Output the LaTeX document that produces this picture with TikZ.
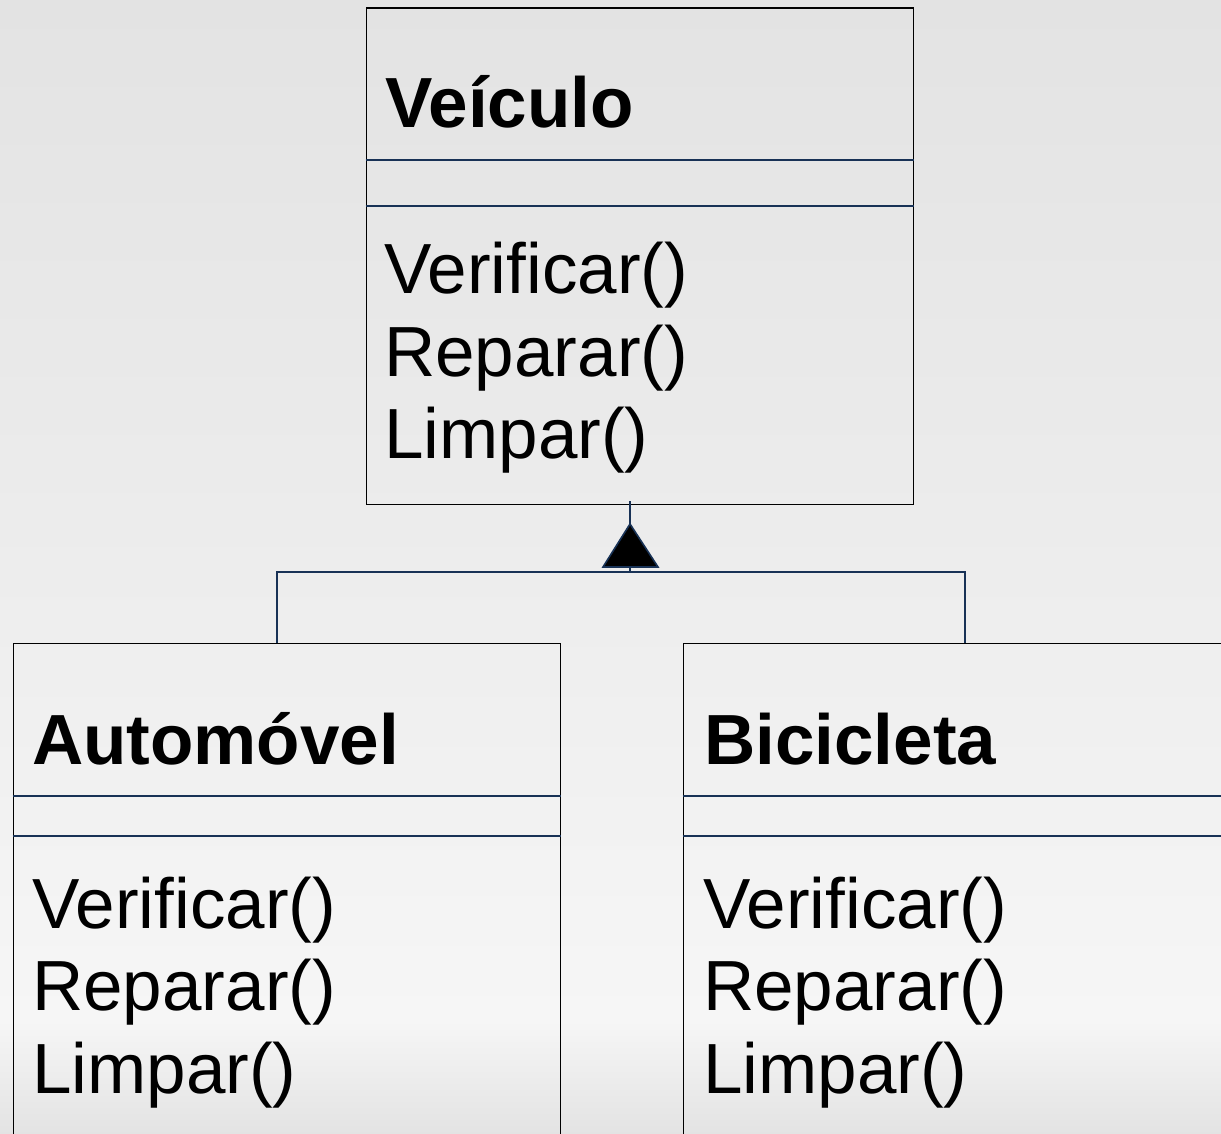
\documentclass[tikz,border=0pt]{standalone}
\usepackage{fontspec}
\setmainfont{Liberation Sans}
\definecolor{umlblue}{RGB}{24,50,86}
\definecolor{bgtop}{RGB}{227,227,227}
\definecolor{bgmid}{RGB}{236,236,236}
\definecolor{bglight}{RGB}{246,246,246}
\definecolor{bgbot}{RGB}{227,227,227}
% page background: grey at the top, lighter towards the lower part, darker again at the very bottom
\pgfdeclareverticalshading{pagebg}{100bp}{color(0bp)=(bgbot); color(25bp)=(bgbot); color(30bp)=(bglight); color(52bp)=(bgmid); color(75bp)=(bgtop); color(100bp)=(bgtop)}
\tikzset{
  classbox/.style={draw=black, line width=1.8pt, rectangle, inner sep=0pt, anchor=north west},
  divider/.style={draw=umlblue, line width=2.2pt},
  link/.style={draw=umlblue, line width=1.6pt},
  classname/.style={anchor=base west, inner sep=0pt, font=\fontsize{71}{84}\selectfont\bfseries},
  member/.style={anchor=base west, inner sep=0pt, font=\fontsize{71}{84}\selectfont},
}
\begin{document}
\begin{tikzpicture}[x=1pt,y=-1pt]
\useasboundingbox (0,0) rectangle (1221,1134);
\clip (0,0) rectangle (1221,1134);
\shade[shading=pagebg] (0,0) rectangle (1221,1134);

% class boxes
\node[classbox, minimum width=547pt, minimum height=496pt] (veh) at (365.5,7.5) {};
\node[classbox, minimum width=547pt, minimum height=560pt] (auto) at (12.5,642.5) {};
\node[classbox, minimum width=560pt, minimum height=560pt] (bici) at (682.5,642.5) {};

% compartment separators
\draw[divider] (veh.west |- 0,160) -- (veh.east |- 0,160);
\draw[divider] (veh.west |- 0,206) -- (veh.east |- 0,206);
\draw[divider] (auto.west |- 0,796) -- (auto.east |- 0,796);
\draw[divider] (auto.west |- 0,836) -- (auto.east |- 0,836);
\draw[divider] (bici.west |- 0,796) -- (bici.east |- 0,796);
\draw[divider] (bici.west |- 0,836) -- (bici.east |- 0,836);

% class names
\node[classname] (vehname) at (385,128) {Veículo};
\node[classname] (autoname) at (32,764) {Automóvel};
\node[classname] (bicname) at (704,764) {Bicicleta};

% operations
\node[member] (vop1) at (384,293) {Verificar()};
\node[member] (vop2) at (384,376) {Reparar()};
\node[member] (vop3) at (384,458) {Limpar()};
\node[member] (aop1) at (32,928) {Verificar()};
\node[member] (aop2) at (32,1010) {Reparar()};
\node[member] (aop3) at (32,1093) {Limpar()};
\node[member] (bop1) at (703,928) {Verificar()};
\node[member] (bop2) at (703,1010) {Reparar()};
\node[member] (bop3) at (703,1093) {Limpar()};

% generalization connector
\coordinate (hub) at (630,572);
\coordinate (autojoin) at (277,0);
\coordinate (bicijoin) at (965,0);
\draw[link] (veh.south -| hub) ++(0,-4) -- (hub);
\draw[link] (auto.north -| autojoin) |- (hub) -| (bici.north -| bicijoin);
\coordinate (tip) at (630,524);
\draw[link, fill=black, line join=miter] (tip) -- ++(28,43) -- ++(-55,0) -- cycle;
\end{tikzpicture}
\end{document}
